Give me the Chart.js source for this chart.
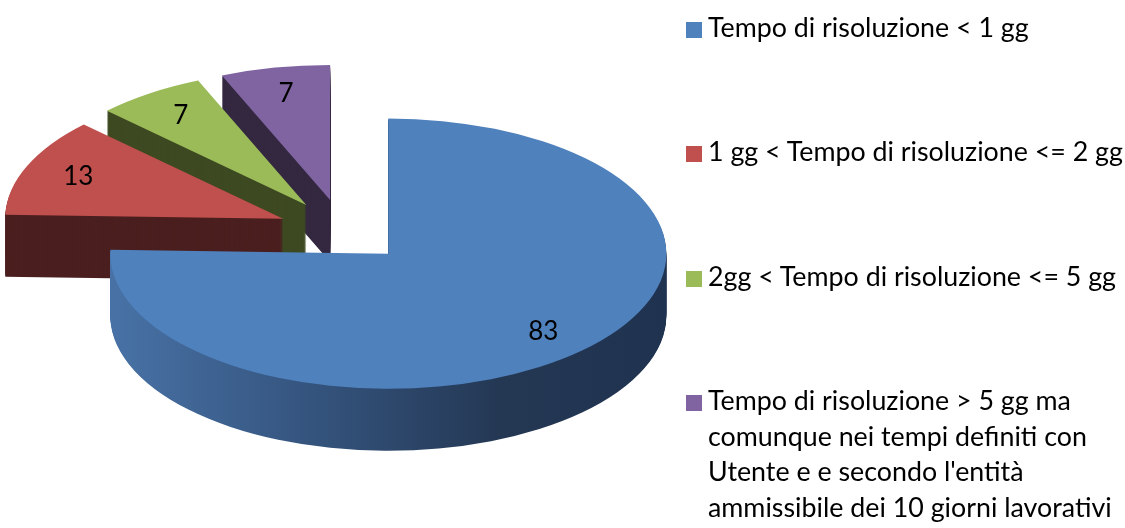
<!DOCTYPE html>
<html>
<head>
<meta charset="utf-8">
<script src="https://cdn.jsdelivr.net/npm/chart.js@4.4.1/dist/chart.umd.min.js"></script>
<style>
  html, body { margin: 0; padding: 0; background: #fff; }
  #wrap { position: relative; width: 1125px; height: 528px; }
  #legend { position: absolute; left: 686px; top: 0; font-family: Lato, sans-serif; font-size: 26.8px; color: #000; }
  .item { position: absolute; left: 0; white-space: nowrap; }
  .box { position: absolute; left: 0; width: 16px; height: 16px; }
  .txt { position: absolute; left: 22px; top: 0; line-height: 35.5px; }
</style>
</head>
<body>
<div id="wrap">
  <canvas id="pie"></canvas>
  <div id="legend"></div>
</div>
<script>
// data
const categories = [
  'Tempo di risoluzione < 1 gg',
  '1 gg < Tempo di risoluzione <= 2 gg',
  '2gg < Tempo di risoluzione <= 5 gg',
  ['Tempo di risoluzione > 5 gg ma', 'comunque nei tempi definiti con', "Utente e e secondo l'entità", 'ammissibile dei 10 giorni lavorativi']
];
const values = [83, 13, 7, 7];

// styles
const topColors = ['#4f81bd', '#c0504d', '#9bbb59', '#8064a2'];
const sideColors = [null, '#4b1f1f', '#3e4a22', '#33283f'];
const squash = 0.486;   // tilt of the pie
const depth = 62;       // thickness in px
const explode = 65;     // distance each slice is pulled out
const legendBaselines = [38, 162, 287, 411];

function shift(arc) {
  const mid = (arc.startAngle + arc.endAngle) / 2;
  return { mid: mid, dx: Math.cos(mid) * explode, dy: Math.sin(mid) * explode * squash };
}

function drawFace(ctx, arc, s, d) {
  ctx.save();
  ctx.translate(arc.x + s.dx, arc.y + s.dy + d);
  ctx.scale(1, squash);
  ctx.translate(-arc.x, -arc.y);
  arc.draw(ctx);
  ctx.restore();
}

function sideFill(ctx, arc, i) {
  if (sideColors[i]) return sideColors[i];
  // blue wall is shaded from left to right
  const r = arc.outerRadius;
  const g = ctx.createLinearGradient(arc.x - r, 0, arc.x + r, 0);
  g.addColorStop(0, '#4872a6');
  g.addColorStop(0.35, '#35557f');
  g.addColorStop(0.7, '#243854');
  g.addColorStop(1, '#1f3350');
  return g;
}

const pie3d = {
  id: 'pie3d',
  beforeDatasetsDraw(chart) {
    const ctx = chart.ctx;
    const arcs = chart.getDatasetMeta(0).data;
    const order = arcs.map((a, i) => i).sort((a, b) => shift(arcs[a]).dy - shift(arcs[b]).dy);

    order.forEach(i => {
      const arc = arcs[i];
      const s = shift(arc);
      const saved = arc.options;
      arc.options = Object.assign({}, saved, { backgroundColor: sideFill(ctx, arc, i), borderWidth: 0 });
      for (let d = depth; d >= 1; d--) drawFace(ctx, arc, s, d);
      arc.options = Object.assign({}, saved, { borderWidth: 0 });
      drawFace(ctx, arc, s, 0);
      arc.options = saved;
    });

    // value labels
    ctx.save();
    ctx.font = '26px Lato, sans-serif';
    ctx.fillStyle = '#000';
    ctx.textAlign = 'center';
    ctx.textBaseline = 'middle';
    arcs.forEach((arc, i) => {
      const s = shift(arc);
      const r = arc.outerRadius * 0.8;
      const x = arc.x + s.dx + Math.cos(s.mid) * r;
      const y = arc.y + s.dy + Math.sin(s.mid) * r * squash;
      ctx.fillText(String(values[i]), x, y);
    });
    ctx.restore();
    return false;
  }
};

new Chart(document.getElementById('pie'), {
  type: 'pie',
  data: {
    labels: categories,
    datasets: [{
      data: values,
      backgroundColor: topColors,
      borderWidth: 0
    }]
  },
  options: {
    responsive: true,
    maintainAspectRatio: false,
    animation: false,
    radius: 278,
    layout: { padding: { left: 0, top: 0, right: 439, bottom: 66 } },
    plugins: {
      legend: { display: false },
      tooltip: { enabled: false }
    }
  },
  plugins: [pie3d]
});

// legend on the right
const legend = document.getElementById('legend');
categories.forEach((label, i) => {
  const lines = Array.isArray(label) ? label : [label];
  const item = document.createElement('div');
  item.className = 'item';
  item.style.top = (legendBaselines[i] - 28) + 'px';
  const box = document.createElement('div');
  box.className = 'box';
  box.style.background = topColors[i];
  box.style.top = '12px';
  const txt = document.createElement('div');
  txt.className = 'txt';
  txt.innerHTML = lines.map(l => l.replace(/&/g, '&amp;').replace(/</g, '&lt;').replace(/>/g, '&gt;')).join('<br>');
  item.appendChild(box);
  item.appendChild(txt);
  legend.appendChild(item);
});
</script>
</body>
</html>
